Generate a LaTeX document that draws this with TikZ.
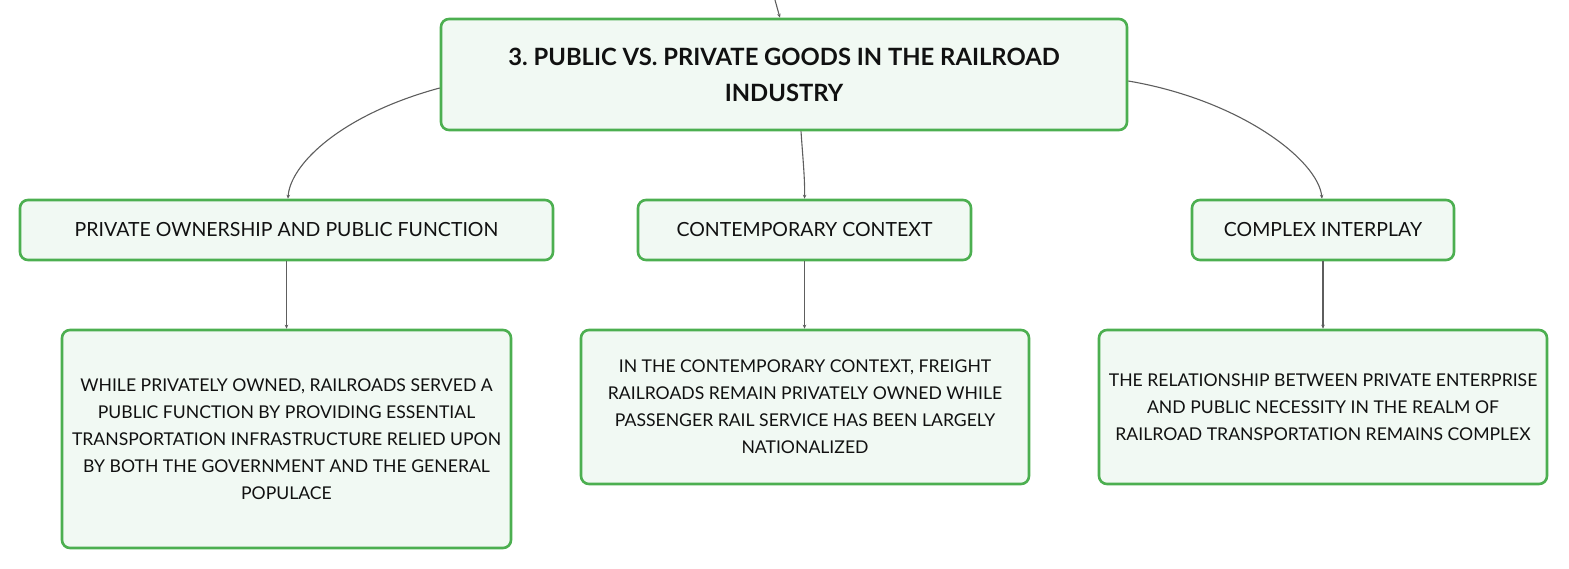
\documentclass[tikz,border=0pt]{standalone}
\usepackage{fontspec}
\setmainfont{Lato}
\frenchspacing
\usetikzlibrary{arrows.meta,calc}
\definecolor{boxgreen}{HTML}{4CAF50}
\definecolor{boxfill}{HTML}{F1F9F3}
\definecolor{linkgray}{HTML}{5E5E5E}
\definecolor{txt}{HTML}{111111}
\begin{document}
\begin{tikzpicture}[x=1pt,y=-1pt,
  box/.style={draw=boxgreen,line width=2.6pt,fill=boxfill,rounded corners=8pt,inner sep=0pt,align=center,text=txt},
  mid/.style={box,minimum height=60pt,font=\fontsize{19.5}{24}\selectfont},
  leaf/.style={box,minimum width=448pt,font=\fontsize{17.6}{27}\selectfont},
  link/.style={draw=linkgray,line width=1.1pt,-{Stealth[length=4pt,width=3.5pt]}}]
\useasboundingbox (0,0) rectangle (1569,569);
\node[box,minimum width=686pt,minimum height=111pt,font=\bfseries\fontsize{23.8}{36}\selectfont] (top) at (784,74.5) {3. PUBLIC VS. PRIVATE GOODS IN THE RAILROAD\\INDUSTRY};
\node[mid,minimum width=533pt] (a) at (286.5,230) {PRIVATE OWNERSHIP AND PUBLIC FUNCTION};
\node[mid,minimum width=333pt] (b) at (804.5,230) {CONTEMPORARY CONTEXT};
\node[mid,minimum width=262pt] (c) at (1323,230) {COMPLEX INTERPLAY};
\node[leaf,minimum width=449pt,minimum height=218pt] (la) at (286.5,439) {WHILE PRIVATELY OWNED, RAILROADS SERVED A\\PUBLIC FUNCTION BY PROVIDING ESSENTIAL\\TRANSPORTATION INFRASTRUCTURE RELIED UPON\\BY BOTH THE GOVERNMENT AND THE GENERAL\\POPULACE};
\node[leaf,minimum height=154pt] (lb) at (805,407) {IN THE CONTEMPORARY CONTEXT, FREIGHT\\RAILROADS REMAIN PRIVATELY OWNED WHILE\\PASSENGER RAIL SERVICE HAS BEEN LARGELY\\NATIONALIZED};
\node[leaf,minimum height=154pt] (lc) at (1323,407) {THE RELATIONSHIP BETWEEN PRIVATE ENTERPRISE\\AND PUBLIC NECESSITY IN THE REALM OF\\RAILROAD TRANSPORTATION REMAINS COMPLEX};
\coordinate (in) at (775,0);
\draw[link] (in) .. controls (777,8) .. ([xshift=-4pt]top.north);
\draw[link] ([yshift=-13.5pt]top.west) .. controls (340,115) and (290,165) .. ([xshift=1.5pt]a.north);
\draw[link] ([xshift=17pt]top.south) .. controls (803,160) and (805,180) .. (b.north);
\draw[link] ([yshift=-6.5pt]top.east) .. controls (1240,100) and (1318,160) .. ([xshift=-1pt]c.north);
\draw[link] (a.south) -- (a.south |- la.north);
\draw[link] (b.south) -- (b.south |- lb.north);
\draw[link] (c.south) -- (c.south |- lc.north);
\end{tikzpicture}
\end{document}
